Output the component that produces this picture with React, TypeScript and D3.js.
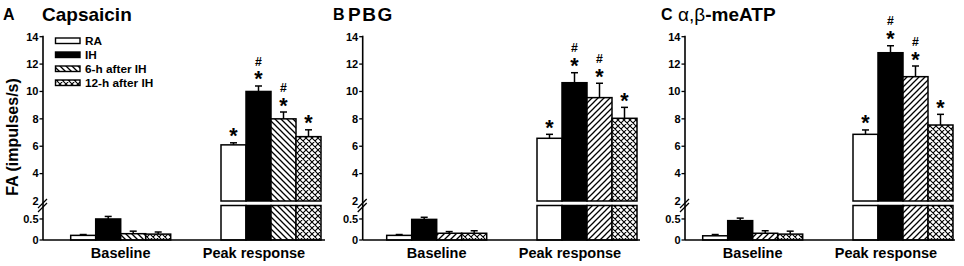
import React from "react";
import * as d3 from "d3";

const groups = ["Baseline", "Peak response"];
const seriesNames = ["RA", "IH", "6-h after IH", "12-h after IH"];
const panelLetters = ["A", "B", "C"];

// means [group][series]
const capsaicinMeans = [[0.11, 0.5, 0.15, 0.14], [6.1, 10.0, 8.0, 6.7]];
const capsaicinErrTop = [[0.13, 0.56, 0.21, 0.19], [6.25, 10.4, 8.5, 7.2]];
const pbgMeans = [[0.11, 0.49, 0.16, 0.16], [6.58, 10.64, 9.55, 8.04]];
const pbgErrTop = [[0.13, 0.54, 0.2, 0.22], [6.87, 11.37, 10.6, 8.84]];
const atpMeans = [[0.1, 0.46, 0.16, 0.14], [6.87, 12.83, 11.08, 7.55]];
const atpErrTop = [[0.13, 0.52, 0.22, 0.21], [7.19, 13.34, 11.86, 8.33]];

// significance marks on peak response bars
const peakStars = [true, true, true, true];
const peakHashes = [false, true, true, false];

const upperTicks = [2, 4, 6, 8, 10, 12, 14];
const lowerTicks = [0, 0.5];

const FONT = "Liberation Sans, Arial, Helvetica, sans-serif";

const panels = [
  { title: "Capsaicin", means: capsaicinMeans, err: capsaicinErrTop, axisX: 43, xEnd: 325, barStart: 70.7, hatch: "back", legend: true, letterX: 3, titleX: 42, spacing: 0 },
  { title: "PBG", means: pbgMeans, err: pbgErrTop, axisX: 362.7, xEnd: 640, barStart: 386.7, hatch: "fwd", legend: false, letterX: 333, titleX: 348, spacing: 1.5 },
  { title: "α,β-meATP", means: atpMeans, err: atpErrTop, axisX: 685, xEnd: 955, barStart: 702.7, hatch: "fwd", legend: false, letterX: 661, titleX: 678, spacing: 0 },
];

const yUpper = d3.scaleLinear().domain([2, 14]).range([201, 36.7]);
const yLower = d3.scaleLinear().domain([0, 0.82]).range([240, 205.5]);
const lowerTop = yLower(0.82);
const upperBottom = yUpper(2);
const baseY = yLower(0);

function fillFor(si: number, hatch: string) {
  if (si === 0) return "#fff";
  if (si === 1) return "#000";
  if (si === 2) return hatch === "back" ? "url(#hatchBack)" : "url(#hatchFwd)";
  return "url(#cross)";
}

function Panel({ p, pi }: { p: any; pi: number }) {
  const groupStep = 150.3;
  const x0 = d3
    .scaleBand<string>()
    .domain(groups)
    .range([p.barStart, p.barStart + 2 * groupStep - 50.3])
    .paddingInner(50.3 / groupStep)
    .paddingOuter(0);
  const x1 = d3.scaleBand<string>().domain(seriesNames).range([0, x0.bandwidth()]).padding(0);
  const bw = x1.bandwidth();
  const yVal = (v: number) => (v <= 0.82 ? yLower(v) : yUpper(v));

  return (
    <g>
      {/* title */}
      <text x={p.letterX} y={20} fontSize={16} fontWeight="bold" fontFamily={FONT}>{panelLetters[pi]}</text>
      {pi === 2 ? (
        <text x={p.titleX} y={20.5} fontSize={19} fontWeight="bold" fontFamily={FONT}>
          <tspan fontWeight="normal">α,β</tspan>
          <tspan>-meATP</tspan>
        </text>
      ) : (
        <text x={p.titleX} y={20.5} fontSize={19} fontWeight="bold" fontFamily={FONT} letterSpacing={p.spacing}>{p.title}</text>
      )}

      {/* bars */}
      {groups.map((g, gi) =>
        seriesNames.map((s, si) => {
          const v = p.means[gi][si];
          const e = p.err[gi][si];
          const bx = (x0(g) as number) + (x1(s) as number);
          const fill = fillFor(si, p.hatch);
          const cx = bx + bw / 2;
          const errY = yVal(e);
          const topY = yVal(v);
          const els: any[] = [];
          if (v <= 0.82) {
            els.push(<rect key="b" x={bx} y={topY} width={bw} height={baseY - topY} fill={fill} stroke="#000" strokeWidth={1.5} />);
          } else {
            els.push(<rect key="bl" x={bx} y={lowerTop} width={bw} height={baseY - lowerTop} fill={fill} stroke="#000" strokeWidth={1.5} />);
            els.push(<rect key="bu" x={bx} y={topY} width={bw} height={upperBottom - topY} fill={fill} stroke="#000" strokeWidth={1.5} />);
          }
          els.push(<line key="e" x1={cx} x2={cx} y1={topY} y2={errY} stroke="#000" strokeWidth={1.5} />);
          els.push(<line key="c" x1={cx - 3.5} x2={cx + 3.5} y1={errY} y2={errY} stroke="#000" strokeWidth={1.5} />);
          if (gi === 1 && peakStars[si]) {
            els.push(
              <text key="s" x={cx} y={errY + 0.5} textAnchor="middle" fontSize={21.5} fontWeight="bold" fontFamily={FONT}>*</text>
            );
          }
          if (gi === 1 && peakHashes[si]) {
            els.push(
              <text key="h" x={cx} y={errY - 20.3} textAnchor="middle" fontSize={12.3} fontWeight="bold" fontFamily={FONT}>#</text>
            );
          }
          return <g key={g + s}>{els}</g>;
        })
      )}

      {/* axes */}
      <line x1={p.axisX} x2={p.axisX} y1={yUpper(14) - 1} y2={baseY} stroke="#000" strokeWidth={1.6} />
      <line x1={p.axisX} x2={p.xEnd} y1={baseY} y2={baseY} stroke="#000" strokeWidth={1.6} />
      {/* break marks */}
      <line x1={p.axisX - 5} x2={p.axisX + 4} y1={208} y2={199} stroke="#000" strokeWidth={1.3} />
      <line x1={p.axisX - 5} x2={p.axisX + 4} y1={212} y2={203} stroke="#000" strokeWidth={1.3} />
      {upperTicks.map((t) => (
        <g key={"u" + t}>
          {t !== 2 && <line x1={p.axisX - 3.5} x2={p.axisX} y1={yUpper(t)} y2={yUpper(t)} stroke="#000" strokeWidth={1.3} />}
          <text x={p.axisX - 4.5} y={yUpper(t)} dy="0.35em" textAnchor="end" fontSize={11} fontWeight="bold" fontFamily={FONT}>{t}</text>
        </g>
      ))}
      {lowerTicks.map((t) => (
        <g key={"l" + t}>
          <line x1={p.axisX - 3.5} x2={p.axisX} y1={yLower(t)} y2={yLower(t)} stroke="#000" strokeWidth={1.3} />
          <text x={p.axisX - 4.5} y={yLower(t)} dy="0.35em" textAnchor="end" fontSize={11} fontWeight="bold" fontFamily={FONT}>{t}</text>
        </g>
      ))}

      {/* category labels */}
      {groups.map((g, gi) => (
        <text
          key={g}
          x={(x0(g) as number) + x0.bandwidth() / 2 + (gi === 1 ? -17 : 0)}
          y={258}
          textAnchor="middle"
          fontSize={14.5}
          fontWeight="bold"
          fontFamily={FONT}
        >
          {g}
        </text>
      ))}

      {/* legend */}
      {p.legend &&
        seriesNames.map((s, si) => (
          <g key={"lg" + s}>
            <rect x={55.5} y={38 + si * 14} width={24.5} height={5.5} fill={fillFor(si, p.hatch)} stroke="#000" strokeWidth={1.4} />
            <text x={85} y={45 + si * 14} fontSize={11.8} fontWeight="bold" fontFamily={FONT}>{s}</text>
          </g>
        ))}
    </g>
  );
}

export default function App() {
  return (
    <svg width={964} height={266} style={{ position: "absolute", left: 0, top: 0, background: "#fff" }}>
      <defs>
        <pattern id="hatchBack" patternUnits="userSpaceOnUse" width={6} height={6}>
          <rect width={6} height={6} fill="#fff" />
          <path d="M-1,-1 L7,7 M-1,5 L1,7 M5,-1 L7,1" stroke="#000" strokeWidth={1.3} />
        </pattern>
        <pattern id="hatchFwd" patternUnits="userSpaceOnUse" width={6} height={6}>
          <rect width={6} height={6} fill="#fff" />
          <path d="M-1,7 L7,-1 M-1,1 L1,-1 M5,7 L7,5" stroke="#000" strokeWidth={1.3} />
        </pattern>
        <pattern id="cross" patternUnits="userSpaceOnUse" width={6} height={6}>
          <rect width={6} height={6} fill="#fff" />
          <path d="M-1,-1 L7,7 M-1,5 L1,7 M5,-1 L7,1 M-1,7 L7,-1 M-1,1 L1,-1 M5,7 L7,5" stroke="#000" strokeWidth={1.1} />
        </pattern>
      </defs>
      <text
        transform="translate(17.5,137) rotate(-90)"
        textAnchor="middle"
        fontSize={16}
        fontWeight="bold"
        fontFamily={FONT}
      >
        FA (impulses/s)
      </text>
      {panels.map((p, pi) => (
        <Panel key={pi} p={p} pi={pi} />
      ))}
    </svg>
  );
}
